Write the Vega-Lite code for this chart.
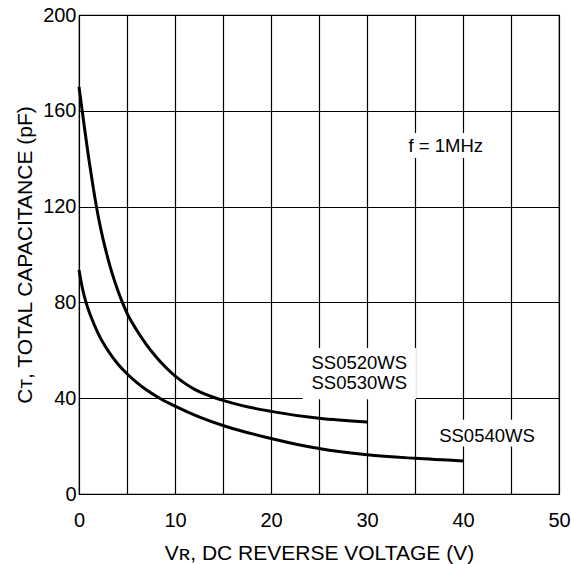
{
  "$schema": "https://vega.github.io/schema/vega-lite/v6.json",
  "width": 480,
  "height": 479,
  "autosize": "none",
  "padding": {"left": 79, "top": 15, "right": 12, "bottom": 70},
  "background": "white",
  "config": {
    "font": "Liberation Sans",
    "view": {"stroke": "black", "strokeWidth": 1.2},
    "axis": {"gridColor": "black", "gridOpacity": 1, "gridWidth": 1.2, "domainColor": "black", "ticks": false, "labelColor": "black", "titleColor": "black", "labelFont": "Liberation Sans", "titleFont": "Liberation Sans", "titleFontWeight": "normal"}
  },
  "datasets": {
    "curves": [
      {"series": "SS0520WS/SS0530WS", "v": 0, "c": 170},
      {"series": "SS0520WS/SS0530WS", "v": 0.5, "c": 155},
      {"series": "SS0520WS/SS0530WS", "v": 1, "c": 140.5},
      {"series": "SS0520WS/SS0530WS", "v": 1.5, "c": 127.5},
      {"series": "SS0520WS/SS0530WS", "v": 2, "c": 116},
      {"series": "SS0520WS/SS0530WS", "v": 2.5, "c": 106.5},
      {"series": "SS0520WS/SS0530WS", "v": 3, "c": 98.5},
      {"series": "SS0520WS/SS0530WS", "v": 3.5, "c": 91.5},
      {"series": "SS0520WS/SS0530WS", "v": 4, "c": 85.5},
      {"series": "SS0520WS/SS0530WS", "v": 4.5, "c": 80.2},
      {"series": "SS0520WS/SS0530WS", "v": 5, "c": 75.5},
      {"series": "SS0520WS/SS0530WS", "v": 6, "c": 68.5},
      {"series": "SS0520WS/SS0530WS", "v": 7, "c": 62.5},
      {"series": "SS0520WS/SS0530WS", "v": 8, "c": 57.4},
      {"series": "SS0520WS/SS0530WS", "v": 9, "c": 53},
      {"series": "SS0520WS/SS0530WS", "v": 10, "c": 49.3},
      {"series": "SS0520WS/SS0530WS", "v": 11, "c": 46.3},
      {"series": "SS0520WS/SS0530WS", "v": 12, "c": 43.8},
      {"series": "SS0520WS/SS0530WS", "v": 13, "c": 41.9},
      {"series": "SS0520WS/SS0530WS", "v": 14, "c": 40.4},
      {"series": "SS0520WS/SS0530WS", "v": 15, "c": 39.1},
      {"series": "SS0520WS/SS0530WS", "v": 17, "c": 36.9},
      {"series": "SS0520WS/SS0530WS", "v": 20, "c": 34.5},
      {"series": "SS0520WS/SS0530WS", "v": 25, "c": 31.6},
      {"series": "SS0520WS/SS0530WS", "v": 30, "c": 30.1},
      {"series": "SS0540WS", "v": 0, "c": 93.5},
      {"series": "SS0540WS", "v": 0.35, "c": 86},
      {"series": "SS0540WS", "v": 0.73, "c": 80},
      {"series": "SS0540WS", "v": 1.2, "c": 74.5},
      {"series": "SS0540WS", "v": 2, "c": 67},
      {"series": "SS0540WS", "v": 3, "c": 60},
      {"series": "SS0540WS", "v": 4, "c": 54.5},
      {"series": "SS0540WS", "v": 5, "c": 50.2},
      {"series": "SS0540WS", "v": 6, "c": 46.6},
      {"series": "SS0540WS", "v": 7, "c": 43.5},
      {"series": "SS0540WS", "v": 8.4, "c": 40},
      {"series": "SS0540WS", "v": 10, "c": 36.7},
      {"series": "SS0540WS", "v": 12.5, "c": 32.2},
      {"series": "SS0540WS", "v": 15, "c": 28.6},
      {"series": "SS0540WS", "v": 17.5, "c": 25.7},
      {"series": "SS0540WS", "v": 20, "c": 23.2},
      {"series": "SS0540WS", "v": 22.5, "c": 20.9},
      {"series": "SS0540WS", "v": 25, "c": 19},
      {"series": "SS0540WS", "v": 30, "c": 16.4},
      {"series": "SS0540WS", "v": 35, "c": 14.9},
      {"series": "SS0540WS", "v": 40, "c": 13.8}
    ],
    "boxes": [
      {"x1": 23.3, "x2": 35.1, "y1": 39.6, "y2": 61},
      {"x1": 37.1, "x2": 48, "y1": 19.8, "y2": 31},
      {"x1": 33.9, "x2": 42.4, "y1": 140.3, "y2": 150.7}
    ],
    "labels": [
      {"text": "SS0520WS", "x": 29.2, "y": 54.7},
      {"text": "SS0530WS", "x": 29.2, "y": 46.3},
      {"text": "SS0540WS", "x": 42.5, "y": 24.2},
      {"text": "f = 1MHz", "x": 38.2, "y": 145.2}
    ]
  },
  "layer": [
    {
      "data": {"name": "boxes"},
      "mark": {"type": "rect", "color": "white"},
      "encoding": {
        "x": {"field": "x1", "type": "quantitative", "scale": {"domain": [0, 50], "nice": false},
          "axis": {"values": [0, 5, 10, 15, 20, 25, 30, 35, 40, 45, 50], "labelExpr": "datum.value % 10 === 0 ? datum.label : ''", "labelFontSize": 20, "labelPadding": 16, "title": "Vʀ, DC REVERSE VOLTAGE (V)", "titleFontSize": 21, "titlePadding": 12, "labelFlush": false}},
        "x2": {"field": "x2"},
        "y": {"field": "y1", "type": "quantitative", "scale": {"domain": [0, 200], "nice": false},
          "axis": {"values": [0, 40, 80, 120, 160, 200], "labelFontSize": 20, "labelPadding": 3, "title": "Cᴛ, TOTAL CAPACITANCE (pF)", "titleFontSize": 21, "titlePadding": 7, "labelFlush": false}},
        "y2": {"field": "y2"}
      }
    },
    {
      "data": {"name": "curves"},
      "mark": {"type": "line", "color": "black", "strokeWidth": 3, "interpolate": "monotone"},
      "encoding": {
        "x": {"field": "v", "type": "quantitative"},
        "y": {"field": "c", "type": "quantitative"},
        "detail": {"field": "series"}
      }
    },
    {
      "data": {"name": "labels"},
      "mark": {"type": "text", "fontSize": 18.5, "color": "black", "align": "center", "baseline": "middle", "font": "Liberation Sans"},
      "encoding": {
        "x": {"field": "x", "type": "quantitative"},
        "y": {"field": "y", "type": "quantitative"},
        "text": {"field": "text"}
      }
    }
  ]
}
